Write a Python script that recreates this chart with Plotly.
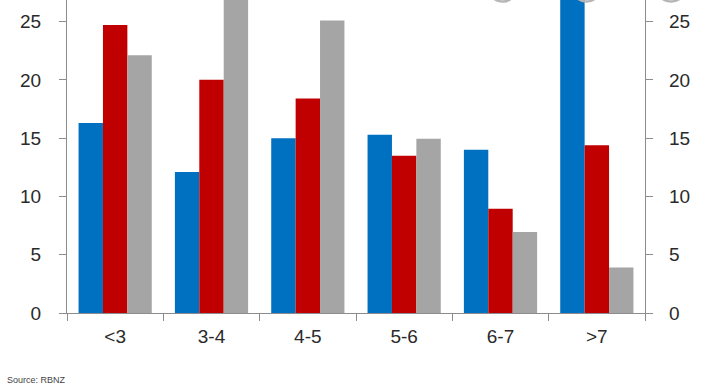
import plotly.graph_objects as go

categories = ["<3", "3-4", "4-5", "5-6", "6-7", ">7"]
series_blue = [16.3, 12.1, 15.0, 15.3, 14.0, 30.0]
series_red = [24.7, 20.0, 18.4, 13.5, 8.95, 14.4]
series_gray = [22.1, 28.0, 25.1, 14.95, 6.95, 3.9]
y_ticks = [0, 5, 10, 15, 20, 25]

W, H = 719, 387
L, R, T, B = 67, 74, 0, 74
pw, ph = W - L - R, H - T - B

fig = go.Figure()
for vals, col in [(series_blue, "#0070C0"), (series_red, "#C00000"), (series_gray, "#A5A5A5")]:
    fig.add_trace(go.Bar(x=categories, y=vals, marker=dict(color=col, line=dict(width=0)),
                         showlegend=False))
fig.add_trace(go.Bar(x=categories, y=[0] * 6, yaxis="y2", showlegend=False,
                     marker=dict(color="rgba(0,0,0,0)"), hoverinfo="skip"))

font = dict(family="Liberation Sans, Arial, sans-serif", size=19, color="#2a2a2a")
yrange = [0, 26.85]
axcol = "#8c8c8c"
fig.update_layout(
    template="none",
    width=W, height=H,
    margin=dict(l=L, r=R, t=T, b=B, pad=0, autoexpand=False),
    paper_bgcolor="white", plot_bgcolor="white",
    barmode="group", bargap=0.24, bargroupgap=0,
    font=font,
    xaxis=dict(type="category", showline=True, linecolor=axcol, linewidth=1.2,
               ticks="outside", tickson="boundaries", ticklen=7, tickcolor=axcol,
               showgrid=False, tickfont=font, ticklabelstandoff=6, automargin=False),
    yaxis=dict(range=yrange, tickvals=y_ticks, showline=True, linecolor=axcol, linewidth=1.2,
               ticks="outside", ticklen=7, tickcolor=axcol, showgrid=False, zeroline=False,
               tickfont=font, ticklabelstandoff=14, automargin=False),
    yaxis2=dict(range=yrange, tickvals=y_ticks, overlaying="y", side="right", showline=True,
                linecolor=axcol, linewidth=1.2, ticks="outside", ticklen=7, tickcolor=axcol,
                showgrid=False, zeroline=False, tickfont=font, ticklabelstandoff=12,
                automargin=False),
)

def px2x(px):
    return (px - L) / pw

def px2y(py):
    return (H - B - py) / ph

for x0, x1 in [(488, 517), (572, 601), (656, 686)]:
    fig.add_shape(type="circle", xref="paper", yref="paper",
                  x0=px2x(x0), x1=px2x(x1), y0=px2y(1.5), y1=px2y(-27.5),
                  line=dict(color="#b5b5b5", width=2.5), fillcolor="rgba(0,0,0,0)")

fig.add_annotation(text="Source: RBNZ", xref="paper", yref="paper",
                   x=px2x(5), y=px2y(380), xanchor="left", yanchor="middle",
                   showarrow=False, font=dict(family="Liberation Sans, Arial, sans-serif",
                                              size=9, color="#444"))

fig.write_html("out.html", config={"displayModeBar": False},
               post_script="document.body.style.margin='0';document.body.style.overflow='hidden';")
